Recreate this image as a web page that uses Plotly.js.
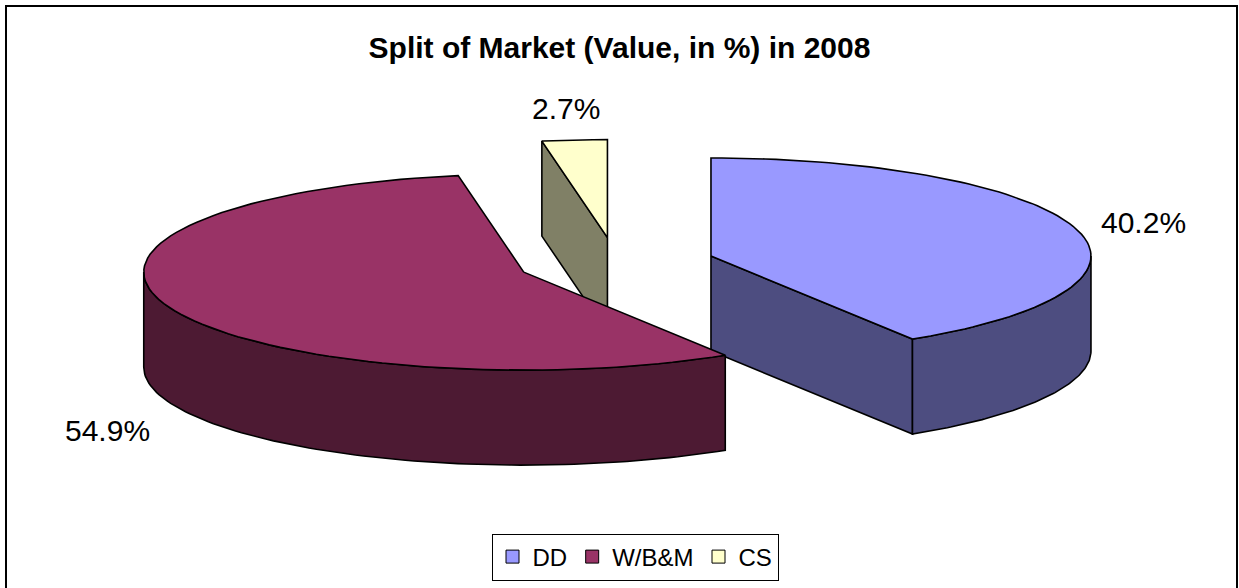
<!DOCTYPE html>
<html><head><meta charset="utf-8">
<script src="https://cdn.plot.ly/plotly-3.0.1.min.js"></script>
<style>html,body{margin:0;padding:0;background:#fff}</style>
</head><body><div id="chart" style="width:1239px;height:588px"></div>
<script>
// ---- data ----
const categories = ['DD', 'W/B&M', 'CS'];
const values = [40.2, 54.9, 2.7];
const valueLabels = values.map(v => v.toFixed(1) + '%');
const topColors = ['#9999FF', '#993366', '#FFFFCC'];
const sideColors = ['#4D4D80', '#4D1A33', '#808066'];

// ---- 3-D pie layout constants (axis units = pixels) ----
const CX = 616, CY = 263, RX = 380, RY = 98, DEPTH = 95, EXPLODE = 0.26, STEPS = 90;
const labelPos = [[1143, 222], [107, 430], [566, 108]];
const FONT = 'Liberation Sans, Arial, sans-serif';

const total = values.reduce((s, v) => s + v, 0);
function rim(ax, ay, th, dz) { return [ax + RX * Math.sin(th), ay - RY * Math.cos(th) + (dz || 0)]; }
function arc(ax, ay, t0, t1, dz) {
  const pts = [];
  for (let k = 0; k <= STEPS; k++) pts.push(rim(ax, ay, t0 + (t1 - t0) * k / STEPS, dz));
  return pts;
}
function poly(pts, fill) {
  return {type: 'scatter', mode: 'lines', x: pts.map(p => p[0]).concat([pts[0][0]]),
    y: pts.map(p => p[1]).concat([pts[0][1]]), fill: 'toself', fillcolor: fill,
    line: {color: '#000', width: 1.6}, hoverinfo: 'skip', showlegend: false};
}

const slices = [];
let cum = 0;
values.forEach((v, i) => {
  const a = 2 * Math.PI * cum / total;
  const b = 2 * Math.PI * (cum + v) / total;
  cum += v;
  const m = (a + b) / 2;
  const ax = CX + EXPLODE * RX * Math.sin(m), ay = CY - EXPLODE * RY * Math.cos(m);
  slices.push({i, a, b, ax, ay});
});
slices.sort((p, q) => p.ay - q.ay);

const traces = [];
slices.forEach(s => {
  const {i, a, b, ax, ay} = s;
  // cut faces
  [[a, Math.sin(a) < -1e-6], [b, Math.sin(b) > 1e-6]].forEach(([t, vis]) => {
    if (!vis) return;
    const r = rim(ax, ay, t), rb = rim(ax, ay, t, DEPTH);
    traces.push(poly([[ax, ay], r, rb, [ax, ay + DEPTH]], sideColors[i]));
  });
  // outer rim, front half only
  const lo = Math.max(a, Math.PI / 2), hi = Math.min(b, 3 * Math.PI / 2);
  if (hi > lo) {
    const top = arc(ax, ay, lo, hi, 0), bot = arc(ax, ay, lo, hi, DEPTH).reverse();
    traces.push(poly(top.concat(bot), sideColors[i]));
  }
  // top face
  traces.push(poly([[ax, ay]].concat(arc(ax, ay, a, b, 0)), topColors[i]));
});

// legend entries
categories.forEach((c, i) => traces.push({
  type: 'scatter', mode: 'markers', x: [null], y: [null], name: c,
  marker: {symbol: 'square', size: 13, color: topColors[i], line: {color: '#000', width: 1}}
}));

const annotations = valueLabels.map((t, i) => ({
  x: labelPos[i][0], y: labelPos[i][1], xref: 'x', yref: 'y', text: t, showarrow: false,
  font: {family: FONT, size: 30, color: '#000'}
}));

const layout = {
  width: 1239, height: 588, margin: {l: 0, r: 0, t: 0, b: 0},
  paper_bgcolor: '#fff', plot_bgcolor: '#fff', hovermode: false,
  title: {text: '<b>Split of Market (Value, in %) in 2008</b>', font: {family: FONT, size: 30, color: '#000'},
    x: 0.5, xanchor: 'center', xref: 'paper', y: 1 - 47 / 588, yref: 'container', yanchor: 'middle'},
  xaxis: {range: [0, 1239], visible: false, fixedrange: true},
  yaxis: {range: [588, 0], visible: false, fixedrange: true},
  showlegend: true,
  legend: {orientation: 'h', x: 635 / 1239, xanchor: 'center', y: 1 - 557 / 588, yanchor: 'middle',
    bordercolor: '#000', borderwidth: 1, bgcolor: '#fff', font: {family: FONT, size: 24, color: '#000'},
    itemwidth: 30, traceorder: 'normal'},
  shapes: [{type: 'rect', xref: 'x', yref: 'y', x0: 6, y0: 6, x1: 1237, y1: 600,
    line: {color: '#000', width: 2}, fillcolor: 'rgba(0,0,0,0)', layer: 'above'}],
  annotations
};
Plotly.newPlot('chart', traces, layout, {displayModeBar: false, staticPlot: true});
</script></body></html>
